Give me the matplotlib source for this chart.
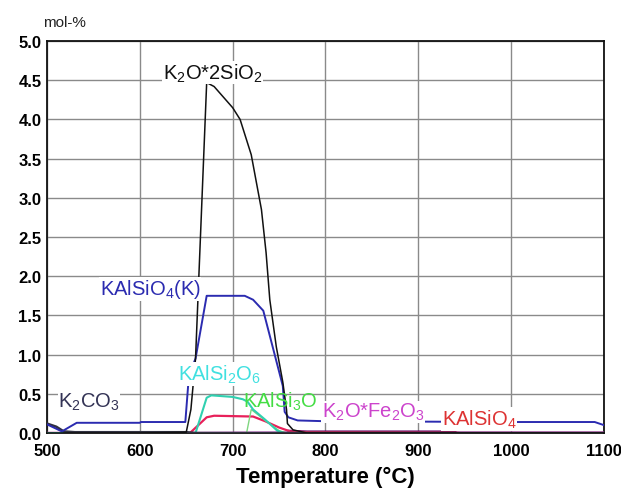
import matplotlib

matplotlib.use("Agg")
import matplotlib.pyplot as plt

plt.rcParams["font.family"] = ["Liberation Sans", "DejaVu Sans"]
plt.rcParams["mathtext.fontset"] = "custom"
plt.rcParams["mathtext.rm"] = "Liberation Sans"
plt.rcParams["mathtext.it"] = "Liberation Sans:italic"
plt.rcParams["mathtext.bf"] = "Liberation Sans:bold"

# temperature (°C) / mol-%
k2o2sio2_t = [500, 520, 600, 650, 655, 660, 672, 680, 700, 708, 720, 731, 736, 740, 747, 754, 758, 759, 765, 780, 1100]
k2o2sio2_y = [0.0, 0.0, 0.0, 0.01, 0.3, 0.95, 4.47, 4.42, 4.15, 4.0, 3.55, 2.85, 2.3, 1.7, 1.1, 0.65, 0.3, 0.12, 0.04, 0.0, 0.0]

kalsio4k_t = [500, 516, 532, 600, 601, 649, 652, 655, 660, 672, 713, 722, 733, 754, 756, 760, 770, 800, 1000, 1090, 1100]
kalsio4k_y = [0.11, 0.02, 0.13, 0.13, 0.14, 0.14, 0.6, 0.8, 0.95, 1.75, 1.75, 1.70, 1.56, 0.6, 0.27, 0.2, 0.16, 0.15, 0.14, 0.14, 0.10]

k2co3_t = [500, 510, 518, 530, 650, 660, 1100]
k2co3_y = [0.12, 0.08, 0.02, 0.01, 0.01, 0.0, 0.0]

kalsi2o6_t = [500, 660, 672, 677, 700, 711, 716, 722, 735, 748, 755, 1100]
kalsi2o6_y = [0.0, 0.0, 0.45, 0.48, 0.46, 0.43, 0.4, 0.3, 0.17, 0.03, 0.0, 0.0]

kalsi3o8_t = [500, 715, 720, 735, 750, 758, 1100]
kalsi3o8_y = [0.0, 0.0, 0.3, 0.16, 0.03, 0.0, 0.0]

kalsio4_t = [500, 654, 672, 680, 722, 735, 750, 762, 780, 940, 945, 1100]
kalsio4_y = [0.0, 0.0, 0.2, 0.22, 0.21, 0.15, 0.07, 0.02, 0.01, 0.005, 0.0, 0.0]

k2ofe2o3_t = [500, 650, 760, 800, 1100]
k2ofe2o3_y = [0.0, 0.0, 0.005, 0.005, 0.005]

purple_t = [760, 780, 940]
purple_y = [0.03, 0.02, 0.02]

x_ticks = [500, 600, 700, 800, 900, 1000, 1100]
y_ticks = [0.0, 0.5, 1.0, 1.5, 2.0, 2.5, 3.0, 3.5, 4.0, 4.5, 5.0]

fig = plt.figure(figsize=(6.21, 4.89), dpi=100)
ax = fig.add_axes([0.0757, 0.1125, 0.8969, 0.8015])

ax.plot(k2ofe2o3_t, k2ofe2o3_y, color="#cc33cc", lw=1.6, zorder=3)
ax.plot(purple_t, purple_y, color="#660066", lw=1.4, zorder=3)
ax.plot(kalsio4_t, kalsio4_y, color="#e8205a", lw=1.6, zorder=4)
ax.plot(kalsi3o8_t, kalsi3o8_y, color="#7fd67f", lw=1.0, zorder=4)
ax.plot(kalsi2o6_t, kalsi2o6_y, color="#30d0b0", lw=1.5, zorder=4)
ax.plot(k2co3_t, k2co3_y, color="#303040", lw=1.8, zorder=4)
ax.plot(kalsio4k_t, kalsio4k_y, color="#2b2bb0", lw=1.4, zorder=5)
ax.plot(k2o2sio2_t, k2o2sio2_y, color="#111111", lw=1.1, zorder=5)

box = dict(facecolor="white", edgecolor="none", pad=0.5)
fs = 14.5
ax.text(625, 4.6, "K$_\\mathregular{2}$O*2SiO$_\\mathregular{2}$", fontsize=fs, color="#111111",
        ha="left", va="center", bbox=box, zorder=6)
ax.text(557, 1.84, "KAlSiO$_\\mathregular{4}$(K)", fontsize=fs, color="#2b2bb0",
        ha="left", va="center", bbox=box, zorder=6)
ax.text(641, 0.75, "KAlSi$_\\mathregular{2}$O$_\\mathregular{6}$", fontsize=fs, color="#40e0e0",
        ha="left", va="center", bbox=box, zorder=6)
ax.text(711, 0.41, "KAlSi$_\\mathregular{3}$O", fontsize=fs, color="#44dd44",
        ha="left", va="center", zorder=6)
ax.text(512, 0.40, "K$_\\mathregular{2}$CO$_\\mathregular{3}$", fontsize=fs, color="#333355",
        ha="left", va="center", bbox=box, zorder=6)
ax.text(796, 0.27, "K$_\\mathregular{2}$O*Fe$_\\mathregular{2}$O$_\\mathregular{3}$", fontsize=fs,
        color="#cc44cc", ha="left", va="center", bbox=box, zorder=6)
ax.text(925, 0.18, "KAlSiO$_\\mathregular{4}$", fontsize=fs, color="#dd3333",
        ha="left", va="center", bbox=box, zorder=6)

ax.set_xlim(500, 1100)
ax.set_ylim(0, 5.0)
ax.set_xticks(x_ticks)
ax.set_yticks(y_ticks)
ax.set_xticklabels([str(t) for t in x_ticks], fontweight="bold", fontsize=12)
ax.set_yticklabels([f"{t:.1f}" for t in y_ticks], fontweight="bold", fontsize=12)
ax.tick_params(axis="x", length=0, pad=7)
ax.tick_params(axis="y", length=0, pad=4)
ax.grid(True, color="#8a8a8a", lw=1.0)
ax.set_axisbelow(True)
for sp in ax.spines.values():
    sp.set_linewidth(1.3)
    sp.set_color("#111111")

ax.set_xlabel("Temperature (°C)", fontsize=16, fontweight="bold", labelpad=6)
fig.text(0.069, 0.953, "mol-%", fontsize=11, color="#222222", ha="left", va="center")

fig.savefig("out.png", dpi=100)
